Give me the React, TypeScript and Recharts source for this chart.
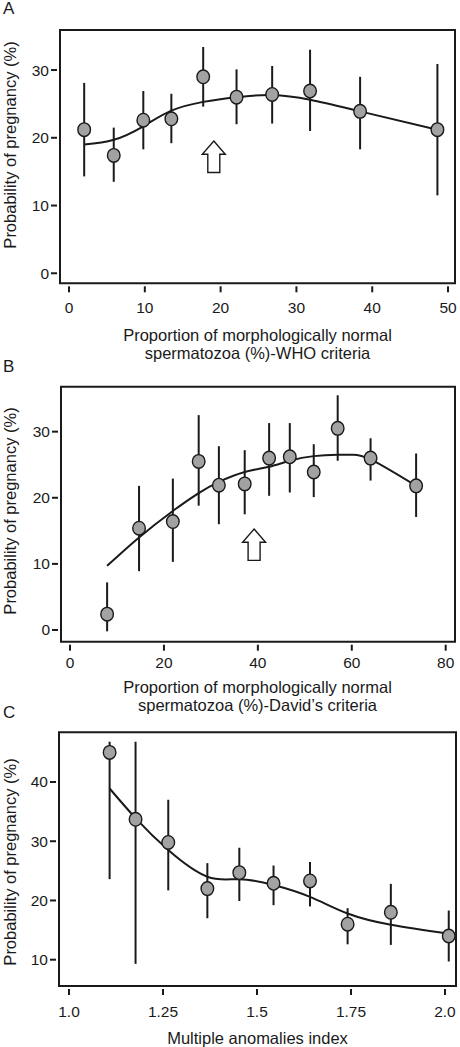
import React from 'react'
import { ComposedChart, ErrorBar, Line, ReferenceArea, Scatter, XAxis, YAxis } from 'recharts'

// A: WHO criteria (x = % normal forms, y = probability of pregnancy %)
const whoX = [2.0, 5.9, 9.8, 13.5, 17.7, 22.1, 26.8, 31.8, 38.4, 48.6]
const whoY = [21.2, 17.4, 22.6, 22.8, 29.0, 26.0, 26.4, 26.9, 23.9, 21.2]
const whoHigh = [28.1, 21.5, 26.9, 26.5, 33.4, 30.1, 30.6, 33.0, 29.0, 30.9]
const whoLow = [14.3, 13.5, 18.3, 19.2, 24.6, 22.0, 22.1, 21.0, 18.3, 11.5]
const whoFit = [19.0, 19.7, 21.7, 24.0, 25.3, 26.0, 26.3, 25.6, 23.9, 21.2]
const whoTicksX = [0, 10, 20, 30, 40, 50]
const whoTicksY = [0, 10, 20, 30]
const whoThreshold = [{ x: 19.1, y: 17.2 }]

// B: David's criteria
const davidX = [7.9, 14.7, 21.9, 27.4, 31.7, 37.2, 42.4, 46.8, 51.9, 57.0, 64.0, 73.7]
const davidY = [2.4, 15.4, 16.4, 25.5, 21.9, 22.1, 26.0, 26.2, 23.9, 30.5, 26.0, 21.8]
const davidHigh = [7.2, 21.8, 22.9, 32.5, 27.8, 27.2, 31.3, 31.3, 28.1, 35.5, 29.0, 26.7]
const davidLow = [-0.2, 8.9, 10.3, 18.8, 16.0, 17.5, 20.3, 20.8, 20.1, 25.6, 22.6, 17.1]
const davidFitX = [7.9, 14.7, 21.9, 27.4, 31.7, 37.2, 42.4, 46.8, 51.9, 57.0, 60.0, 64.0, 73.7]
const davidFitY = [9.7, 14.0, 18.0, 20.7, 22.4, 23.9, 24.7, 25.6, 26.3, 26.5, 26.5, 25.8, 21.8]
const davidTicksX = [0, 20, 40, 60, 80]
const davidTicksY = [0, 10, 20, 30]
const davidThreshold = [{ x: 39.2, y: 12.9 }]

// C: multiple anomalies index
const maiX = [1.108, 1.177, 1.264, 1.368, 1.453, 1.544, 1.641, 1.741, 1.856, 2.01]
const maiY = [45.0, 33.7, 29.8, 22.0, 24.7, 22.9, 23.3, 16.0, 18.0, 14.0]
const maiHigh = [46.8, 46.8, 37.0, 26.3, 28.9, 25.9, 26.5, 18.7, 22.8, 18.3]
const maiLow = [23.6, 9.3, 21.7, 17.0, 19.9, 19.2, 19.0, 12.6, 12.5, 9.7]
const maiFit = [38.9, 33.9, 28.5, 24.0, 23.6, 22.6, 20.6, 17.8, 15.9, 14.4]
const maiTicksX = [1.0, 1.25, 1.5, 1.75, 2.0]
const maiTickLabels = ['1.0', '1.25', '1.5', '1.75', '2.0']
const maiTicksY = [10, 20, 30, 40]

const yTitle = 'Probability of pregnancy (%)'
const font = '"Liberation Sans", Arial, Helvetica, sans-serif'
const ink = '#1a1a1a'

const toPoints = (xs: number[], ys: number[], lo: number[], hi: number[]) =>
  xs.map((x, i) => ({ x, y: ys[i], err: [ys[i] - lo[i], hi[i] - ys[i]] }))

const toCurve = (xs: number[], ys: number[]) => xs.map((x, i) => ({ x, fit: ys[i] }))

const Dot = (props: any) => (
  <ellipse cx={props.cx} cy={props.cy} rx={6.3} ry={6.8} fill="#a2a2a2" stroke={ink} strokeWidth={1.4} />
)

const UpArrow = (props: any) => {
  const { cx, cy } = props
  const pts = [
    [cx, cy - 15.7],
    [cx + 11.5, cy - 2.5],
    [cx + 6, cy - 2.5],
    [cx + 6, cy + 15.7],
    [cx - 6, cy + 15.7],
    [cx - 6, cy - 2.5],
    [cx - 11.5, cy - 2.5],
  ]
  return <polygon points={pts.map((p) => p.join(',')).join(' ')} fill="#fff" stroke={ink} strokeWidth={1.4} />
}

const XTick = (props: any) => {
  const { x, y, payload, dy, fmt } = props
  return (
    <g>
      <line x1={x} x2={x} y1={y + 3} y2={y + 9} stroke={ink} strokeWidth={2} />
      <text x={x} y={y + dy + 5.5} textAnchor="middle" fill={ink} fontSize={15.5} fontFamily={font}>
        {fmt ? fmt(payload.value) : payload.value}
      </text>
    </g>
  )
}

const YTick = (props: any) => {
  const { x, y, payload } = props
  return (
    <g>
      <line x1={x - 9} x2={x - 3} y1={y} y2={y} stroke={ink} strokeWidth={2} />
      <text x={x - 11} y={y + 5.5} textAnchor="end" fill={ink} fontSize={15.5} fontFamily={font}>
        {payload.value}
      </text>
    </g>
  )
}

const YTitle = ({ cy }: any) => (
  <text
    transform={`translate(10, ${cy}) rotate(-90)`}
    textAnchor="middle"
    dominantBaseline="central"
    fill={ink}
    fontSize={16.5}
    fontFamily={font}
  >
    {yTitle}
  </text>
)

const XTitle = ({ cx, cy, lines }: any) => (
  <text textAnchor="middle" fill={ink} fontSize={16.5} fontFamily={font}>
    {lines.map((l: string, i: number) => (
      <tspan key={i} x={cx} y={cy + i * 18 + 5.8}>
        {l}
      </tspan>
    ))}
  </text>
)

interface PanelProps {
  top: number
  height: number
  plotTop: number
  xAxisHeight: number
  yAxisWidth: number
  right: number
  xDomain: [number, number]
  yDomain: [number, number]
  xTicks: number[]
  yTicks: number[]
  fmt?: (v: number) => string
  tickDy: number
  points: any[]
  curve: any[]
  arrow?: any[]
  titleLines: string[]
  titleY: number
  yTitleY: number
}

function Panel(p: PanelProps) {
  return (
    <div style={{ position: 'absolute', left: 0, top: p.top }}>
      <ComposedChart width={460} height={p.height} margin={{ top: p.plotTop, right: p.right, left: 0, bottom: 0 }}>
        <XAxis
          type="number"
          dataKey="x"
          domain={p.xDomain}
          ticks={p.xTicks}
          allowDataOverflow
          axisLine={false}
          tickLine={false}
          tickSize={0}
          tickMargin={0}
          height={p.xAxisHeight}
          interval={0}
          tick={<XTick dy={p.tickDy} fmt={p.fmt} />}
          label={<XTitle cx={257.5} cy={p.titleY} lines={p.titleLines} />}
        />
        <YAxis
          type="number"
          domain={p.yDomain}
          ticks={p.yTicks}
          allowDataOverflow
          axisLine={false}
          tickLine={false}
          tickSize={0}
          tickMargin={0}
          width={p.yAxisWidth}
          interval={0}
          tick={<YTick />}
          label={<YTitle cy={p.yTitleY} />}
        />
        <ReferenceArea
          x1={p.xDomain[0]}
          x2={p.xDomain[1]}
          y1={p.yDomain[0]}
          y2={p.yDomain[1]}
          fill="none"
          fillOpacity={0}
          stroke={ink}
          strokeWidth={2}
          ifOverflow="visible"
        />
        <Line
          data={p.curve}
          dataKey="fit"
          type="natural"
          stroke={ink}
          strokeWidth={2}
          dot={false}
          activeDot={false}
          isAnimationActive={false}
        />
        <Scatter data={p.points} dataKey="y" shape={<Dot />} isAnimationActive={false}>
          <ErrorBar dataKey="err" direction="y" width={0} stroke={ink} strokeWidth={2} />
        </Scatter>
        {p.arrow && <Scatter data={p.arrow} dataKey="y" shape={<UpArrow />} isAnimationActive={false} />}
      </ComposedChart>
    </div>
  )
}

const letter = (ch: string, top: number) => (
  <div
    style={{
      position: 'absolute',
      left: 3,
      top,
      fontFamily: font,
      fontSize: 17,
      lineHeight: '17px',
      color: ink,
    }}
  >
    {ch}
  </div>
)

export default function App() {
  return (
    <div style={{ position: 'absolute', left: 0, top: 0, width: 460, height: 1047, background: '#fff' }}>
      <Panel
        top={0}
        height={365}
        plotTop={30}
        xAxisHeight={81.7}
        yAxisWidth={60}
        right={5}
        xDomain={[-1.19, 50.92]}
        yDomain={[-1.48, 35.91]}
        xTicks={whoTicksX}
        yTicks={whoTicksY}
        tickDy={23.7}
        points={toPoints(whoX, whoY, whoLow, whoHigh)}
        curve={toCurve(whoX, whoFit)}
        arrow={whoThreshold}
        titleLines={['Proportion of morphologically normal', 'spermatozoa (%)-WHO criteria']}
        titleY={335}
        yTitleY={145}
      />
      <Panel
        top={345}
        height={370}
        plotTop={41.7}
        xAxisHeight={73.3}
        yAxisWidth={61}
        right={5}
        xDomain={[-1.92, 81.98]}
        yDomain={[-1.77, 36.8]}
        xTicks={davidTicksX}
        yTicks={davidTicksY}
        tickDy={21}
        points={toPoints(davidX, davidY, davidLow, davidHigh)}
        curve={toCurve(davidFitX, davidFitY)}
        arrow={davidThreshold}
        titleLines={['Proportion of morphologically normal', 'spermatozoa (%)-David\u2019s criteria']}
        titleY={342}
        yTitleY={166}
      />
      <Panel
        top={700}
        height={347}
        plotTop={32.3}
        xAxisHeight={61}
        yAxisWidth={59}
        right={4}
        xDomain={[0.9734, 2.0293]}
        yDomain={[5.56, 48.39]}
        xTicks={maiTicksX}
        yTicks={maiTicksY}
        fmt={(v: number) => maiTickLabels[maiTicksX.indexOf(v)] ?? String(v)}
        tickDy={25}
        points={toPoints(maiX, maiY, maiLow, maiHigh)}
        curve={toCurve(maiX, maiFit)}
        titleLines={['Multiple anomalies index']}
        titleY={338}
        yTitleY={162}
      />
      {letter('A', 0)}
      {letter('B', 358)}
      {letter('C', 704)}
    </div>
  )
}
